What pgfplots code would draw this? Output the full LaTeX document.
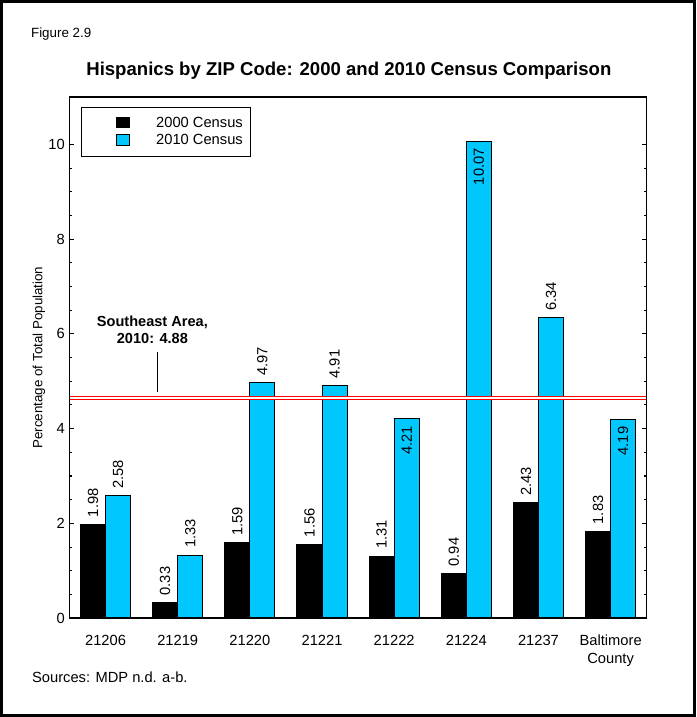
\documentclass[border=0pt]{standalone}
\usepackage{pgfplots}
\pgfplotsset{compat=1.18}
\usepackage{pgfplotstable}
\usepackage{fontspec}
\setmainfont{Liberation Sans}
\definecolor{barcyan}{RGB}{0,200,255}

% percentage of total population, per ZIP code; anc = where the value label sits
\pgfplotstableread{
x y anc
0 1.98 west
1 0.33 west
2 1.59 west
3 1.56 west
4 1.31 west
5 0.94 west
6 2.43 west
7 1.83 west
}\censusA
\pgfplotstableread{
x y anc
0 2.58 west
1 1.33 west
2 4.97 west
3 4.91 west
4 4.21 east
5 10.07 east
6 6.34 west
7 4.19 east
}\censusB

\pgfplotsset{
  valbars/.style={
    point meta=explicit symbolic,
    nodes near coords={\pgfmathprintnumber[fixed,fixed zerofill,precision=2]{\pgfkeysvalueof{/data point/y}}},
    every node near coord/.append style={rotate=90, anchor=\pgfplotspointmeta, inner xsep=5pt,
      font=\fontsize{11}{13}\selectfont, text=black},
  },
}

\begin{document}
\begin{tikzpicture}
\begin{axis}[
  scale only axis, width=432pt, height=390pt,
  clip=false, axis on top,
  ybar=0pt, bar width=18.75pt,
  xmin=-0.5, xmax=7.5, ymin=0, ymax=11,
  xtick={0,...,7},
  xticklabels={21206,21219,21220,21221,21222,21224,21237,{Baltimore\\County}},
  xticklabel style={align=center, yshift=-9pt, font=\fontsize{11}{13.5}\selectfont},
  major x tick style={draw=none},
  ytick={0,2,...,10}, minor y tick num=3,
  ytick pos=both, yticklabel pos=left,
  tick align=inside,
  major tick length=3.5pt, minor tick length=2pt,
  tick style={black, line width=0.8pt},
  yticklabel style={font=\fontsize{11}{13}\selectfont},
  /pgf/number format/assume math mode=true,
  axis line style={line width=1.1pt},
  ylabel={Percentage of Total Population},
  ylabel shift=-2.5pt,
  ylabel style={font=\fontsize{10}{12}\selectfont, yshift=-2pt},
  legend cell align=left,
  legend style={at={(rel axis cs:0.0203,0.981)}, anchor=north west,
    draw=black, line width=0.75pt, inner xsep=4pt, inner ysep=5.25pt,
    font=\fontsize{11}{12}\selectfont},
  legend image code/.code={\path (0pt,-4pt) (31.5pt,4pt);
    \draw[#1, line width=0.75pt] (22pt,-3.5pt) rectangle (31.5pt,4.5pt);},
]
\addplot[fill=black, draw=black, line width=0.75pt, valbars] table[x=x, y=y, meta=anc] {\censusA};
\addplot[fill=barcyan, draw=black, line width=0.75pt, valbars] table[x=x, y=y, meta=anc] {\censusB};
\legend{\hspace{17.5pt}2000 Census, \hspace{17.5pt}2010 Census}

% Southeast Area reference line
\addplot[sharp plot, draw=red, double=white, double distance=1.3pt, line width=0.7pt,
  forget plot] coordinates {(-0.5,4.65) (7.5,4.65)};
\addplot[sharp plot, draw=black, line width=0.9pt, forget plot]
  coordinates {(0.722,5.61) (0.722,4.77)};
\node[font=\bfseries\fontsize{10.9}{12.4}\selectfont, align=center]
  at (axis cs:0.649,6.09) {Southeast Area,\\2010: 4.88};

\node[font=\bfseries\fontsize{13.9}{16}\selectfont] at ([yshift=19.5pt]rel axis cs:0.484,1)
  {Hispanics by ZIP Code: 2000 and 2010 Census Comparison};
\node[anchor=west, font=\fontsize{10}{12}\selectfont] at ([xshift=-32.25pt,yshift=46.75pt]rel axis cs:0,1)
  {Figure 2.9};
\node[anchor=west, font=\fontsize{11}{13}\selectfont] at ([xshift=-31.5pt,yshift=-44.5pt]rel axis cs:0,0)
  {Sources: MDP n.d. a-b.};
\draw[line width=2pt] ([xshift=-51pt,yshift=-73pt]rel axis cs:0,0)
  rectangle ([xshift=36pt,yshift=71.6pt]rel axis cs:1,1);
\end{axis}
\end{tikzpicture}
\end{document}
